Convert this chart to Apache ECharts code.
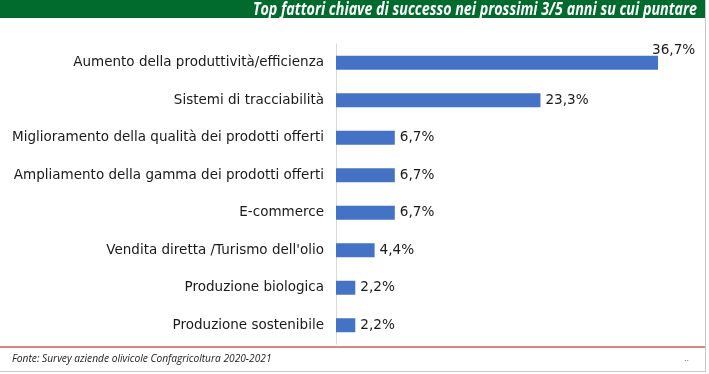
<!DOCTYPE html>
<html><head><meta charset="utf-8">
<script src="https://cdn.jsdelivr.net/npm/echarts@6/dist/echarts.min.js"></script>
<style>html,body{margin:0;padding:0;background:#fff}#c{width:709px;height:374px}</style>
</head><body><div id="c"></div>
<script>
const categories = [
  "Aumento della produttività/efficienza",
  "Sistemi di tracciabilità",
  "Miglioramento della qualità dei prodotti offerti",
  "Ampliamento della gamma dei prodotti offerti",
  "E-commerce",
  "Vendita diretta /Turismo dell'olio",
  "Produzione biologica",
  "Produzione sostenibile"
];
const values = [36.7, 23.3, 6.7, 6.7, 6.7, 4.4, 2.2, 2.2];
const titleText = "Top fattori chiave di successo nei prossimi 3/5 anni su cui puntare";
const sourceText = "Fonte: Survey aziende olivicole Confagricoltura 2020-2021";

const chart = echarts.init(document.getElementById('c'));
const fmt = v => v.toFixed(1).replace('.', ',') + '%';
chart.setOption({
  animation: false,
  graphic: [
    {type: 'rect', z: -1, shape: {x: 0, y: 0, width: 705, height: 18}, style: {fill: '#006b2d'}},
    {type: 'text', x: 697, y: 10, originX: 0, originY: 0, scaleX: 0.84,
     style: {text: titleText, align: 'right', verticalAlign: 'middle', fill: '#fff', fontStyle: 'italic', fontWeight: 'bold', fontSize: 17, fontFamily: 'Open Sans'}},
    {type: 'rect', shape: {x: 0, y: 346, width: 705, height: 2}, style: {fill: '#d98585'}},
    {type: 'rect', shape: {x: 0, y: 371, width: 706, height: 1}, style: {fill: '#c8c8c8'}},
    {type: 'rect', shape: {x: 705, y: 0, width: 1, height: 372}, style: {fill: '#c8c8c8'}},
    {type: 'text', left: 12, top: 354, style: {text: sourceText, fill: '#222', fontStyle: 'italic', fontSize: 10.2, fontFamily: 'Open Sans'}},
    {type: 'text', left: 684, top: 354, style: {text: '..', fill: '#667', fontSize: 9}}
  ],
  grid: {left: 336, right: 22, top: 44, height: 300, containLabel: false},
  xAxis: {type: 'value', min: 0, max: 40, show: false},
  yAxis: {
    type: 'category', data: categories, inverse: true,
    axisLine: {show: true, lineStyle: {color: '#d9d9d9', width: 1}},
    axisTick: {show: false},
    axisLabel: {color: '#1a1a1a', fontSize: 13.5, margin: 12, fontFamily: 'DejaVu Sans'}
  },
  series: [{
    type: 'bar', data: values.map((v, i) => i === 0 ? {value: v, label: {position: 'right', offset: [-11, -12]}} : v),
    barWidth: 14,
    itemStyle: {color: '#4472c4'},
    label: {show: true, position: 'right', distance: 5, color: '#1a1a1a', fontSize: 13.6, fontFamily: 'DejaVu Sans', formatter: p => fmt(p.value)}
  }]
});
</script></body></html>
